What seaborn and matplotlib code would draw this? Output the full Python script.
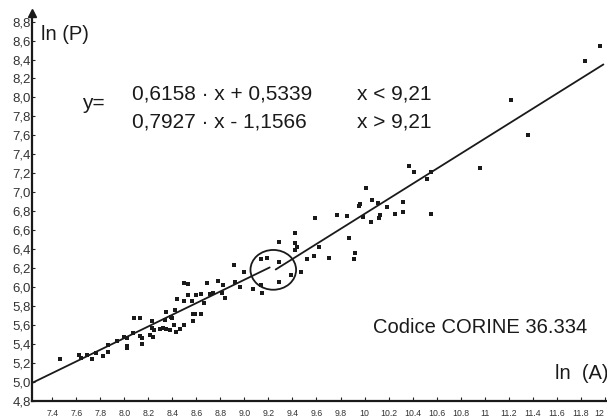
import numpy as np
import pandas as pd
import matplotlib
matplotlib.use("Agg")
import matplotlib.pyplot as plt
import seaborn as sns
from matplotlib.patches import Ellipse

# osservazioni: ln(A) e ln(P)
lnA = [7.46, 7.62, 7.64, 7.69, 7.73, 7.76, 7.82, 7.86, 7.86, 7.94,
       8.00, 8.02, 8.02, 8.02, 8.07, 8.08, 8.13, 8.13, 8.15, 8.15,
       8.21, 8.23, 8.23, 8.24, 8.25, 8.30, 8.32, 8.35, 8.34, 8.35,
       8.38, 8.39, 8.40, 8.41, 8.42, 8.43, 8.44, 8.46, 8.50, 8.50,
       8.53, 8.50, 8.53, 8.56, 8.57, 8.57, 8.59, 8.60, 8.64, 8.64,
       8.66, 8.69, 8.71, 8.74, 8.78, 8.82, 8.81, 8.84, 8.91, 8.92,
       8.96, 9.00, 9.07, 9.14, 9.15, 9.14, 9.19, 9.29, 9.29, 9.29,
       9.39, 9.42, 9.44, 9.42, 9.42, 9.47, 9.52, 9.58, 9.62, 9.59,
       9.70, 9.77, 9.85, 9.87, 9.91, 9.92, 9.95, 9.96, 9.99, 10.01,
       10.05, 10.06, 10.11, 10.12, 10.13, 10.19, 10.25, 10.32, 10.32, 10.37,
       10.41, 10.55, 10.52, 10.55, 10.96, 11.22, 11.36, 11.84, 11.96]
lnP = [5.24, 5.28, 5.25, 5.28, 5.24, 5.30, 5.27, 5.31, 5.39, 5.43,
       5.47, 5.46, 5.38, 5.36, 5.51, 5.67, 5.67, 5.48, 5.46, 5.40,
       5.49, 5.64, 5.57, 5.47, 5.54, 5.56, 5.57, 5.56, 5.65, 5.74,
       5.55, 5.68, 5.67, 5.60, 5.76, 5.52, 5.87, 5.56, 5.60, 6.04,
       6.03, 5.85, 5.91, 5.85, 5.64, 5.71, 5.71, 5.91, 5.93, 5.71,
       5.83, 6.04, 5.93, 5.94, 6.06, 6.02, 5.94, 5.88, 6.23, 6.05,
       6.00, 6.16, 5.98, 6.02, 5.94, 6.29, 6.30, 6.26, 6.05, 6.47,
       6.13, 6.39, 6.42, 6.46, 6.57, 6.16, 6.29, 6.33, 6.42, 6.73,
       6.31, 6.76, 6.75, 6.52, 6.29, 6.36, 6.85, 6.87, 6.74, 7.04,
       6.69, 6.92, 6.89, 6.73, 6.76, 6.84, 6.77, 6.90, 6.79, 7.28,
       7.21, 7.21, 7.14, 6.77, 7.25, 7.97, 7.60, 8.38, 8.54]

# retta spezzata in x = 9,21
slopes = [0.6158, 0.7927]
intercepts = [0.5339, -1.1566]
seg_start = [7.23, 9.26]
seg_end = [9.21, 11.99]

xtick_vals = [7.4, 7.6, 7.8, 8.0, 8.2, 8.4, 8.6, 8.8, 9.0, 9.2, 9.4, 9.6,
              9.8, 10.0, 10.2, 10.4, 10.6, 10.8, 11.0, 11.2, 11.4, 11.6,
              11.8, 12.0]
xtick_labels = ["7.4", "7.6", "7.8", "8.0", "8.2", "8.4", "8.6", "8.8",
                "9.0", "9.2", "9.4", "9.6", "9.8", "10", "10.2", "10.4",
                "10.6", "10.8", "11", "11.2", "11.4", "11.6", "11.8", "12"]
ytick_vals = [4.8, 5.0, 5.2, 5.4, 5.6, 5.8, 6.0, 6.2, 6.4, 6.6, 6.8,
              7.0, 7.2, 7.4, 7.6, 7.8, 8.0, 8.2, 8.4, 8.6, 8.8]
ytick_labels = ["4,8", "5,0", "5,2", "5,4", "5,6", "5,8", "6,0", "6,2",
                "6,4", "6,6", "6,8", "7,0", "7,2", "7,4", "7,6", "7,8",
                "8,0", "8,2", "8,4", "8,6", "8,8"]

sns.set_style("ticks")
plt.rcParams['font.family'] = ['Liberation Sans', 'DejaVu Sans']
ink = "#1a1a1a"

fig = plt.figure(figsize=(6.07, 4.19), dpi=100)
ax = fig.add_axes([32 / 607, 18.4 / 419, 575 / 607, 387.9 / 419])

df = pd.DataFrame({"lnA": lnA, "lnP": lnP})
sns.scatterplot(data=df, x="lnA", y="lnP", marker="s", s=5, color=ink,
                linewidth=0, ax=ax)

for a, b, x0, x1 in zip(slopes, intercepts, seg_start, seg_end):
    seg = pd.DataFrame({"x": [x0, x1], "y": [a * x0 + b, a * x1 + b]})
    sns.lineplot(data=seg, x="x", y="y", color=ink, lw=1.3, ax=ax)

ax.add_patch(Ellipse((9.24, 6.18), 0.38, 0.42, fill=False, ec=ink, lw=1.3))

ax.set_xlim(7.23, 12.02)
ax.set_ylim(4.8, 8.894)
ax.set_xticks(xtick_vals, xtick_labels, fontsize=6.3, color="#333333")
ax.set_yticks(ytick_vals, ytick_labels, fontsize=9.5, color="#333333")
ax.get_xticklabels()[-1].set_horizontalalignment("right")
ax.tick_params(axis="x", direction="in", length=3, pad=6, width=0.8)
ax.tick_params(axis="y", direction="in", length=2.5, pad=1, width=0.8)
ax.set_xlabel("")
ax.set_ylabel("")
sns.despine(ax=ax)
for side in ("left", "bottom"):
    ax.spines[side].set_linewidth(1.6)
    ax.spines[side].set_color(ink)
ax.plot(0, 1, marker="^", ms=6, color=ink, transform=ax.transAxes,
        clip_on=False)

fig.text(40.7 / 607, 1 - 35 / 419, "ln (P)", fontsize=14.5, color=ink,
         va="center")
fig.text(82 / 607, 1 - 108.7 / 419, "y=", fontsize=15, color=ink,
         va="baseline")
fig.text(131.7 / 607, 1 - 100 / 419, "0,6158 · x + 0,5339", fontsize=15,
         color=ink, va="baseline")
fig.text(131.7 / 607, 1 - 127.5 / 419, "0,7927 · x - 1,1566", fontsize=15,
         color=ink, va="baseline")
fig.text(356.7 / 607, 1 - 100 / 419, "x < 9,21", fontsize=15, color=ink,
         va="baseline")
fig.text(356.7 / 607, 1 - 127.5 / 419, "x > 9,21", fontsize=15, color=ink,
         va="baseline")
fig.text(373.3 / 607, 1 - 333 / 419, "Codice CORINE 36.334", fontsize=14.5,
         color=ink, va="baseline")
fig.text(555 / 607, 1 - 378.5 / 419, "ln  (A)", fontsize=14.5, color=ink,
         va="baseline")

fig.savefig("out.png", dpi=100)
